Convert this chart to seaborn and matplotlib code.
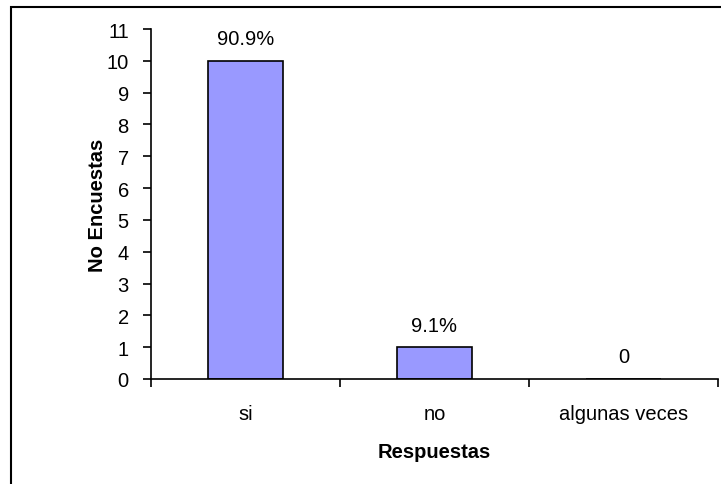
import pandas as pd
import numpy as np
import matplotlib.pyplot as plt
import seaborn as sns
from matplotlib.patches import Rectangle

# datos
respuestas = ['si', 'no', 'algunas veces']
encuestas = [10, 1, 0]
etiquetas = ['90.9%', '9.1%', '0']

sns.set_style('white')
plt.rcParams['font.family'] = ['Liberation Sans', 'DejaVu Sans']
plt.rcParams['text.color'] = 'black'
plt.rcParams['axes.labelcolor'] = 'black'
plt.rcParams['xtick.color'] = 'black'
plt.rcParams['ytick.color'] = 'black'

FS = 14.5
fig = plt.figure(figsize=(7.21, 4.85), dpi=100)
ax = fig.add_axes([151 / 721, 1 - 380 / 485, 567 / 721, 350 / 485])

df = pd.DataFrame({'respuestas': respuestas, 'encuestas': encuestas})
sns.barplot(data=df, x='respuestas', y='encuestas', order=respuestas,
            color='#9999FF', saturation=1, width=0.4,
            edgecolor='black', linewidth=1.2, ax=ax)

ax.bar_label(ax.containers[0], labels=etiquetas, padding=9, fontsize=FS)

ax.set_ylim(0, 11)
ax.set_xlim(-0.5, 2.5)
ax.set_yticks(range(0, 12))

# ticks en los limites de categoria, etiquetas en el centro
ax.set_xticks([-0.5, 0.5, 1.5, 2.5])
ax.set_xticklabels([])
ax.set_xticks([0, 1, 2], minor=True)
ax.set_xticklabels(respuestas, minor=True, fontsize=FS)
ax.tick_params(axis='x', which='minor', length=0, pad=18)
ax.tick_params(axis='x', which='major', direction='out', length=6, width=1.2,
               bottom=True)
ax.tick_params(axis='y', direction='out', length=6, width=1.2,
               left=True, labelsize=FS, pad=10)

for s in ['top', 'right']:
    ax.spines[s].set_visible(False)
for s in ['left', 'bottom']:
    ax.spines[s].set_color('black')
    ax.spines[s].set_linewidth(1.2)

ax.set_xlabel('Respuestas', fontsize=FS, fontweight='bold', labelpad=14)
ax.set_ylabel('No Encuestas', fontsize=FS, fontweight='bold', labelpad=0)

# borde del area del grafico
fig.patches.append(Rectangle((11 / 721, -0.1), 1.2, 1 - 8 / 485 + 0.1,
                             transform=fig.transFigure, fill=False,
                             edgecolor='black', linewidth=1.5, clip_on=False))

fig.savefig('out.png', dpi=100)
